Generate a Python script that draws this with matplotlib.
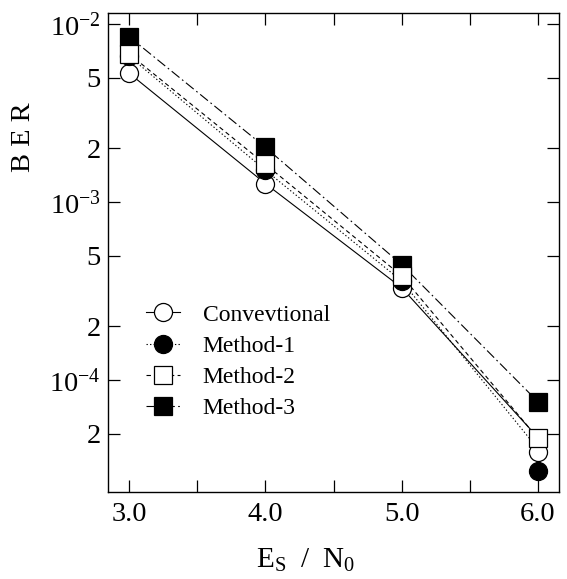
import matplotlib
matplotlib.use('Agg')
import matplotlib.pyplot as plt
from matplotlib.lines import Line2D
from matplotlib.ticker import FixedLocator, FixedFormatter, NullFormatter

plt.rcParams['font.family'] = ['Liberation Serif', 'DejaVu Serif']
plt.rcParams['mathtext.fontset'] = 'custom'
plt.rcParams['mathtext.rm'] = 'Liberation Serif'
plt.rcParams['mathtext.it'] = 'Liberation Serif:italic'
plt.rcParams['mathtext.bf'] = 'Liberation Serif:bold'

# Es/N0 values
es_n0 = [3.0, 4.0, 5.0, 6.0]
series_names = ['Convevtional', 'Method-1', 'Method-2', 'Method-3']

# BER at each measured point
ber_conv = [5.3e-3, 1.27e-3, 3.3e-4, 3.95e-5]
ber_m1 = [6.6e-3, 1.51e-3, 3.6e-4, 3.1e-5]
ber_m2 = [6.8e-3, 1.63e-3, 3.85e-4, 4.7e-5]
ber_m3 = [8.5e-3, 2.03e-3, 4.45e-4, 7.55e-5]

# connecting curves
curve_conv = [5.3e-3, 1.27e-3, 3.3e-4, 4.75e-5]
curve_m1 = [6.6e-3, 1.51e-3, 3.6e-4, 4.1e-5]
curve_m2 = [6.8e-3, 1.63e-3, 3.85e-4, 4.7e-5]
curve_m3 = [8.5e-3, 2.03e-3, 4.45e-4, 7.55e-5]

# axis ticks
xtick_vals = [3.0, 4.0, 5.0, 6.0]
xtick_text = ['3.0', '4.0', '5.0', '6.0']
xminor_vals = [3.5, 4.5, 5.5]
ytick_vals = [1e-2, 5e-3, 2e-3, 1e-3, 5e-4, 2e-4, 1e-4, 5e-5]
ytick_text = [r'$10^{-2}$', '5', '2', r'$10^{-3}$', '5', '2', r'$10^{-4}$', '2']

fig = plt.figure(figsize=(5.67, 5.79), dpi=100)
ax = fig.add_axes([108 / 567, 1 - 492 / 579, 451 / 567, 479 / 579])

lw = 0.8
styles = {
    'Convevtional': dict(ls='-', marker='o', mfc='white'),
    'Method-1': dict(ls=(0, (1.2, 2.0)), marker='o', mfc='black'),
    'Method-2': dict(ls=(0, (4.0, 3.0)), marker='s', mfc='white'),
    'Method-3': dict(ls=(0, (9.0, 3.0, 1.5, 3.0)), marker='s', mfc='black'),
}
points = {'Convevtional': ber_conv, 'Method-1': ber_m1,
          'Method-2': ber_m2, 'Method-3': ber_m3}
curves = {'Convevtional': curve_conv, 'Method-1': curve_m1,
          'Method-2': curve_m2, 'Method-3': curve_m3}

ms = 13
for name in series_names:
    st = styles[name]
    ax.plot(es_n0, curves[name], color='black', lw=lw, ls=st['ls'], zorder=2)

# markers drawn in stacking order
for z, name in enumerate(['Convevtional', 'Method-1', 'Method-3', 'Method-2']):
    st = styles[name]
    ax.plot(es_n0, points[name], ls='none', marker=st['marker'], ms=ms,
            mfc=st['mfc'], mec='black', mew=0.9, zorder=3 + z)

ax.set_yscale('log')
ax.set_xlim(2.846, 6.154)
ax.set_ylim(2.35e-5, 1.153e-2)

ax.xaxis.set_major_locator(FixedLocator(xtick_vals))
ax.xaxis.set_major_formatter(FixedFormatter(xtick_text))
ax.xaxis.set_minor_locator(FixedLocator(xminor_vals))
ax.xaxis.set_minor_formatter(NullFormatter())
ax.yaxis.set_major_locator(FixedLocator(ytick_vals))
ax.yaxis.set_major_formatter(FixedFormatter(ytick_text))
ax.yaxis.set_minor_locator(FixedLocator([]))

ax.tick_params(axis='both', which='both', direction='in', length=8.5,
               width=0.9, top=True, right=True, colors='black')
ax.tick_params(axis='x', which='major', labelsize=20.5, pad=7)
ax.tick_params(axis='y', which='major', labelsize=20.5, pad=5)
for sp in ax.spines.values():
    sp.set_linewidth(1.0)

handles = []
for name in series_names:
    st = styles[name]
    handles.append(Line2D([], [], color='black', lw=lw, ls=st['ls'],
                          marker=st['marker'], ms=ms, mfc=st['mfc'],
                          mec='black', mew=0.9))
ax.legend(handles, series_names, loc='upper left',
          bbox_to_anchor=(0.084, 0.392), frameon=False, fontsize=17,
          borderpad=0, borderaxespad=0, handlelength=1.45,
          handletextpad=0.95, labelspacing=0.41)

fig.text(24 / 567, 1 - 137 / 579, 'B E R', rotation=90, fontsize=20.5,
         ha='center', va='center')
fig.text(305 / 567, 1 - 568 / 579, r'$\mathrm{E}_{\mathrm{S}}\ \ /\ \ \mathrm{N}_{0}$',
         fontsize=21, ha='center', va='baseline')

fig.savefig('out.png', dpi=100)
